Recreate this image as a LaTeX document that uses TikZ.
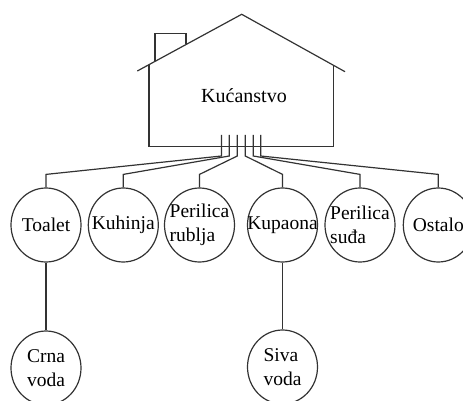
\documentclass[tikz,border=0pt]{standalone}
\usepackage{fontspec}
\setmainfont{Liberation Serif}
\usetikzlibrary{shapes.geometric}
\tikzset{
    bubble/.style={
        draw,ellipse,
        minimum width=70pt,minimum height=74pt,inner sep=0pt,
        label={[align=left,font=\fontsize{19.5}{24}\selectfont]center:#1}
    },
    house label/.style={font=\fontsize{20}{24}\selectfont}
}
\begin{document}
\begin{tikzpicture}[x=1pt,y=-1pt,line width=1.2pt,draw=black!80]
\useasboundingbox (0,0) rectangle (463,401);
% house
\draw (137.3,71) -- (241.7,14.3) -- (345,71.7);
\draw (149,64.6) -- (149,146.7) -- (333.3,146.7) -- (333.3,65.2);
\draw (155,61.2) -- (155,33.3) -- (186,33.3) -- (186,44.4);
\node[house label] (house) at (244,96) {Kućanstvo};
% rooms
\foreach \i/\x/\name in {1/46/Toalet,2/123.3/Kuhinja,3/199.5/{Perilica\\rublja},4/282.5/Kupaona,5/360/{Perilica\\suđa},6/438.3/Ostalo}
    \node[bubble=\name] (room_\i) at (\x,225) {};
% pipes
\foreach \i/\x in {1/221.5,2/229.3,3/237.3,4/245.3,5/253.3,6/260.7} {
    \coordinate (pipe_\i) at (\x,135);
    \coordinate (bend_\i) at (\x,156);
    \draw (pipe_\i) -- (bend_\i) -- ([yshift=13pt]room_\i.north) -- (room_\i.north);
}
% waste water
\node[bubble={Crna\\voda}] (black_water) at (46,368) {};
\node[bubble={Siva\\voda}] (grey_water) at (282.5,367) {};
\draw (room_1.south) -- (black_water.north);
\draw (room_4.south) -- (grey_water.north);
\end{tikzpicture}
\end{document}
